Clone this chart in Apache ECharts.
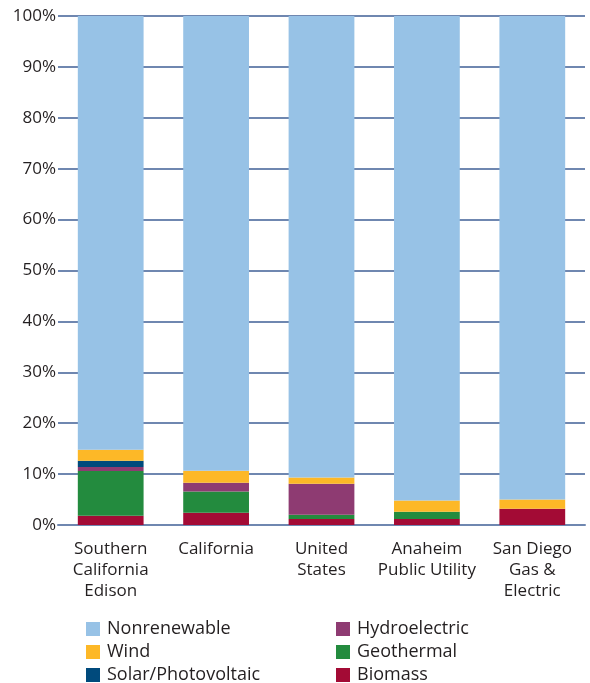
<!DOCTYPE html>
<html><head><meta charset="utf-8">
<script src="https://cdn.jsdelivr.net/npm/echarts@6/dist/echarts.min.js"></script>
<style>html,body{margin:0;padding:0;background:#fff}#c{width:590px;height:683px}</style>
</head><body><div id="c"></div>
<script>
const categories = ['Southern\nCalifornia\nEdison', 'California', 'United\nStates', 'Anaheim\nPublic Utility', 'San Diego\nGas &\nElectric'];
const biomass       = [1.8, 2.4, 1.2, 1.2, 3.2];
const geothermal    = [8.8, 4.2, 0.8, 1.4, 0];
const hydroelectric = [0.8, 1.7, 6.1, 0, 0];
const solar         = [1.2, 0, 0, 0, 0];
const wind          = [2.2, 2.35, 1.25, 2.2, 1.8];
const nonrenewable  = [85.2, 89.35, 90.65, 95.2, 95.0];
const yTicks = [0, 100, 10];

const font = '"Open Sans", "Noto Sans", sans-serif';
const chart = echarts.init(document.getElementById('c'), null, {renderer: 'canvas'});
function s(name, data, color) {
  return {name, type: 'bar', stack: 'a', data, barWidth: '62.4%',
    itemStyle: {color}, emphasis: {disabled: true}};
}
const legendText = {fontFamily: font, fontSize: 18, color: '#231f20', padding: [0,0,0,2]};
chart.setOption({
  animation: false,
  grid: {left: 58, right: 5, top: 16, bottom: 158, containLabel: false},
  xAxis: {type: 'category', data: categories,
    axisLine: {show: true, lineStyle: {color: '#6f87b0', width: 2}},
    axisTick: {show: false},
    axisLabel: {color: '#231f20', fontFamily: font, fontSize: 17, lineHeight: 21, margin: 14, interval: 0}},
  yAxis: {type: 'value', min: yTicks[0], max: yTicks[1], interval: yTicks[2],
    axisLine: {show: false}, axisTick: {show: false},
    axisLabel: {formatter: '{value}%', color: '#231f20', fontFamily: font, fontSize: 17, margin: 2},
    splitLine: {lineStyle: {color: '#6f87b0', width: 2}}},
  legend: [
    {orient: 'vertical', left: 86, top: 620, height: 120, padding: 0, itemWidth: 14, itemHeight: 14, itemGap: 5,
     icon: 'rect', data: ['Nonrenewable', 'Wind', 'Solar/Photovoltaic'],
     textStyle: legendText, selectedMode: false},
    {orient: 'vertical', left: 336, top: 620, height: 120, padding: 0, itemWidth: 14, itemHeight: 14, itemGap: 5,
     icon: 'rect', data: ['Hydroelectric', 'Geothermal', 'Biomass'],
     textStyle: legendText, selectedMode: false}
  ],
  series: [
    s('Biomass', biomass, '#a30b35'),
    s('Geothermal', geothermal, '#238b3e'),
    s('Hydroelectric', hydroelectric, '#8e3b72'),
    s('Solar/Photovoltaic', solar, '#004a7c'),
    s('Wind', wind, '#fdb827'),
    s('Nonrenewable', nonrenewable, '#97c2e6')
  ]
});
</script></body></html>
